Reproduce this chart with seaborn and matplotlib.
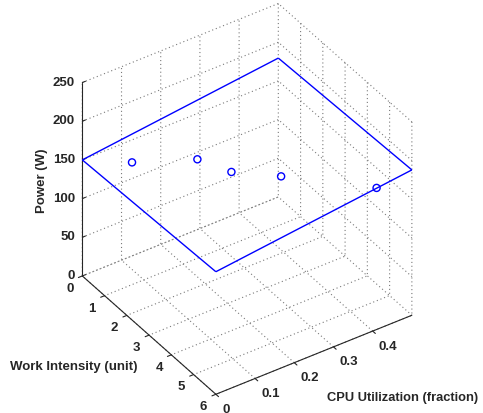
import numpy as np
import matplotlib
matplotlib.use("Agg")
import matplotlib.pyplot as plt
import seaborn as sns

# Measured operating points
work_intensity = [1, 2, 3, 4, 6]
cpu_util = [0.07, 0.18, 0.21, 0.28, 0.41]
power = [158.0, 165.0, 168.0, 173.5, 183.0]

# Fitted power plane: intercept, W per unit of work, W per unit CPU fraction
plane_coef = [150.0, 1.4, 59.0]

wi_range = [0, 6]
cpu_range = [0, 0.5]
power_range = [0, 250]
wi_ticks = [0, 1, 2, 3, 4, 5, 6]
cpu_ticks = [0, 0.1, 0.2, 0.3, 0.4]
cpu_tick_labels = ["0", "0.1", "0.2", "0.3", "0.4"]
power_ticks = [0, 50, 100, 150, 200, 250]

sns.set_style("white")
plt.rcParams["font.family"] = ["Liberation Sans", "DejaVu Sans"]
plt.rcParams["font.weight"] = "bold"
plt.rcParams["grid.linestyle"] = (0, (1, 2.5))
plt.rcParams["grid.color"] = "#7a7a7a"
plt.rcParams["grid.linewidth"] = 0.8

fig = plt.figure(figsize=(4.83, 4.14), dpi=100)
W, H = 483, 414
side = 414
cx, cy = 241.5, 205.5
ax = fig.add_axes([(cx - side / 2) / W, (H - cy - side / 2) / H, side / W, side / H],
                  projection="3d", proj_type="ortho")
ax.set_box_aspect((0.98, 0.99, 1.0), zoom=0.97)
ax.view_init(elev=36.7, azim=-124)

cpu_grid, wi_grid = np.meshgrid(cpu_range, wi_range)
plane = plane_coef[0] + plane_coef[1] * wi_grid + plane_coef[2] * cpu_grid
ax.plot_wireframe(cpu_grid, wi_grid, plane, color="blue", linewidth=1.0)
ax.scatter(cpu_util, work_intensity, power, marker="o", facecolors="none",
           edgecolors="blue", s=26, linewidths=1.0, depthshade=False)

ax.set_xlim(cpu_range)
ax.set_ylim(wi_range[::-1])
ax.set_zlim(power_range)
ax.set_xticks(cpu_ticks)
ax.set_xticklabels(cpu_tick_labels)
ax.set_yticks(wi_ticks)
ax.set_zticks(power_ticks)

for axis in (ax.xaxis, ax.yaxis, ax.zaxis):
    axis.set_pane_color((1, 1, 1, 0))
    axis._axinfo["axisline"]["color"] = "black"
    axis._axinfo["axisline"]["linewidth"] = 0.9
    axis._axinfo["tick"]["inward_factor"] = 0.25
    axis._axinfo["tick"]["outward_factor"] = 0.0
    axis._axinfo["tick"]["linewidth"] = {True: 0.8, False: 0.5}
    axis._axinfo["tick"]["color"] = "black"
ax.zaxis._axinfo["tick"]["inward_factor"] = 0.0
ax.zaxis._axinfo["tick"]["outward_factor"] = 0.2

ax.tick_params(labelsize=9.5)
ax.xaxis.set_tick_params(pad=-0.8)
ax.yaxis.set_tick_params(pad=-1.2)
ax.zaxis.set_tick_params(pad=-4.6)
for lab in ax.get_xticklabels():
    lab.set_ha("left")
    lab.set_va("center")
for lab in ax.get_yticklabels():
    lab.set_ha("right")
    lab.set_va("center")
for lab in ax.get_zticklabels():
    lab.set_ha("right")
    lab.set_va("center")

fig.text(42 / W, 1 - 181 / H, "Power (W)", rotation=90, ha="center", va="center",
         fontsize=9.5, fontweight="bold")
fig.text(74 / W, 1 - 367 / H, "Work Intensity (unit)", ha="center", va="center",
         fontsize=9.5, fontweight="bold")
fig.text(403 / W, 1 - 398 / H, "CPU Utilization (fraction)", ha="center", va="center",
         fontsize=9.3, fontweight="bold")

fig.savefig("out.png", dpi=100)
